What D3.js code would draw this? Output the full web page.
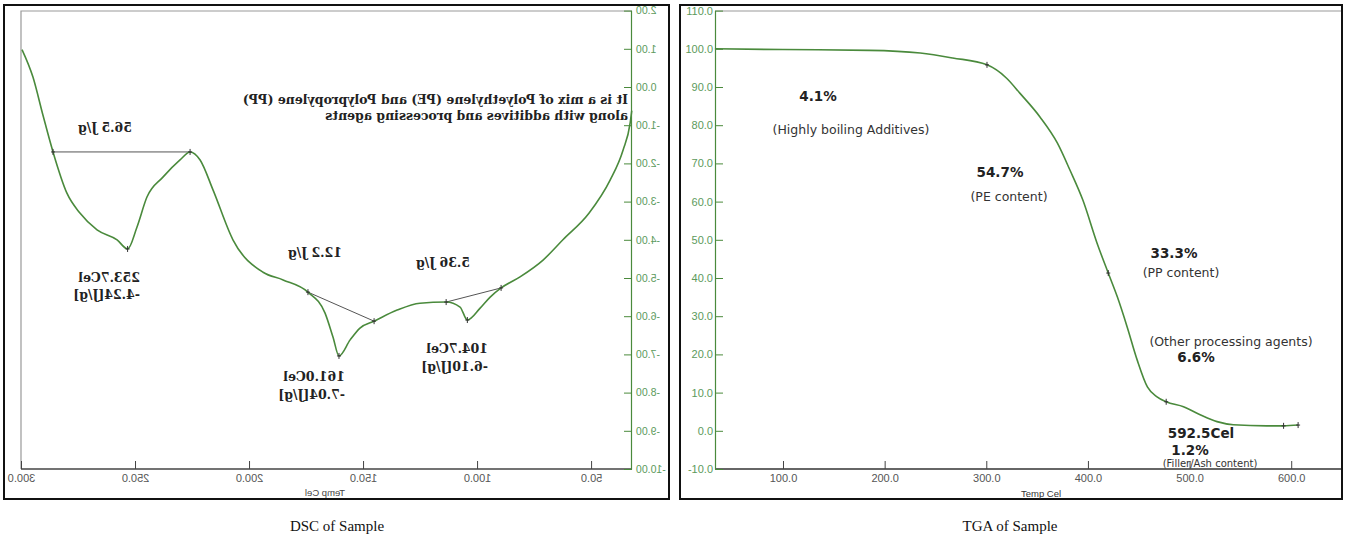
<!DOCTYPE html>
<html>
<head>
<meta charset="utf-8">
<script src="https://cdn.jsdelivr.net/npm/d3@7"></script>
<style>
  body { margin: 0; background: #fff; }
</style>
</head>
<body>
<div id="canvas"></div>
<script>
"use strict"

const dscTemp = [32.6, 33.3, 36.4, 42.1, 51.3, 62.8, 71.5, 81.6, 89.9, 94.7, 99.1, 104.7, 107.9, 114.0, 125.5, 135.5, 145.6, 151.8, 156.1, 161.0, 163.6, 167.1, 174.6, 185.5, 194.3, 207.5, 216.2, 221.9, 226.3, 230.7, 238.2, 245.2, 249.6, 253.7, 258.3, 267.1, 274.6, 280.3, 286.4, 290.8, 295.2, 300.0];
const dscFlow = [-0.62, -0.94, -1.65, -2.44, -3.30, -4.00, -4.53, -4.97, -5.26, -5.50, -5.79, -6.10, -5.76, -5.63, -5.66, -5.84, -6.13, -6.31, -6.62, -7.04, -6.55, -5.92, -5.37, -5.05, -4.85, -4.00, -2.70, -1.91, -1.70, -1.91, -2.36, -2.88, -3.67, -4.24, -4.00, -3.74, -3.30, -2.78, -1.70, -0.74, 0.26, 0.98];

// peak integration baselines: [startTemp, startVal, endTemp, endVal]
const dscBaselines = [
  [226.3, -1.70, 286.4, -1.70],
  [145.6, -6.13, 174.6, -5.37],
  [89.9, -5.26, 114.0, -5.63]
];
const dscMarks = [[286.4, -1.70], [226.3, -1.70], [253.7, -4.24], [174.6, -5.37], [145.6, -6.13], [161.0, -7.04], [114.0, -5.63], [89.9, -5.26], [104.7, -6.10]];

const dscYTicks = [2, 1, 0, -1, -2, -3, -4, -5, -6, -7, -8, -9, -10];
const dscXTicks = [50, 100, 150, 200, 250, 300];

// TGA curve: [temp, weight %]
const tgaTemp = [33, 100, 185, 235, 267, 300.7, 320, 333, 353, 370, 382.4, 395, 409, 420, 429, 438.6, 448.5, 458.5, 468, 477, 494, 510.4, 527, 543, 576, 592.5, 606.8];
const tgaWeight = [100.0, 99.8, 99.6, 98.9, 97.6, 95.8, 92.3, 88.4, 82.1, 75.3, 68.2, 60.4, 49.1, 41.3, 35.0, 27.2, 18.5, 11.5, 8.9, 7.6, 6.3, 4.2, 2.4, 1.6, 1.3, 1.3, 1.5];
const tgaMarks = [300.7, 420, 477, 592.5, 606.8];

const tgaYTicks = [110, 100, 90, 80, 70, 60, 50, 40, 30, 20, 10, 0, -10];
const tgaXTicks = [100, 200, 300, 400, 500, 600];

const green = "#4a8a3c";
const labelGreen = "#5c9a5c";
const serifBold = "'DejaVu Serif', serif";
const tickFont = "11px 'Liberation Sans', Arial, sans-serif";

let drawing = d3.select("#canvas")
    .append("svg")
    .attr("width", 1346)
    .attr("height", 542);

drawing.append("rect").attr("width", 1346).attr("height", 542).attr("fill", "#fff");

/* ---------------- left: DSC, drawn normally then mirrored ---------------- */
drawing.append("rect")
    .attr("x", 4).attr("y", 5).attr("width", 665).attr("height", 494)
    .attr("fill", "none").attr("stroke", "#111").attr("stroke-width", 2);

let dsc = drawing.append("g").attr("transform", "translate(673,0) scale(-1,1)");

let dx = d3.scaleLinear().domain([32.5, 300]).range([41, 651]);
let dy = d3.scaleLinear().domain([-10, 2]).range([469, 10.6]);

// faint frame
dsc.append("path")
    .attr("d", `M41,11 H652 V469`)
    .attr("fill", "none").attr("stroke", "#999").attr("stroke-width", 1.2);

let dscXAxis = dsc.append("g")
    .attr("transform", "translate(0,469)")
    .call(d3.axisBottom(dx).tickValues(dscXTicks).tickFormat(d => d.toFixed(1)).tickSizeInner(-8).tickSizeOuter(0).tickPadding(5));
dscXAxis.select(".domain").attr("stroke", "#444").attr("stroke-width", 1.5).attr("d", "M41,0H652");
dscXAxis.selectAll(".tick line").attr("stroke", "#444");
dscXAxis.selectAll("text").attr("fill", "#555").style("font", tickFont);

let dscYAxis = dsc.append("g")
    .attr("transform", "translate(41,0)")
    .call(d3.axisLeft(dy).tickValues(dscYTicks).tickFormat(d => d.toFixed(2)).tickSizeInner(-8).tickSizeOuter(0).tickPadding(4));
dscYAxis.select(".domain").attr("stroke", green).attr("stroke-width", 1.2);
dscYAxis.selectAll(".tick line").attr("stroke", green);
dscYAxis.selectAll("text").attr("fill", labelGreen).style("font", "10.5px 'Liberation Sans', Arial, sans-serif");

dsc.append("text")
    .attr("x", 348).attr("y", 496)
    .attr("text-anchor", "middle")
    .attr("fill", "#444")
    .style("font", "9.5px 'Liberation Sans', Arial, sans-serif")
    .text("Temp Cel");

dsc.selectAll(".baseline")
    .data(dscBaselines)
    .enter().append("line")
    .attr("x1", d => dx(d[0])).attr("y1", d => dy(d[1]))
    .attr("x2", d => dx(d[2])).attr("y2", d => dy(d[3]))
    .attr("stroke", "#555").attr("stroke-width", 1);

let dscLine = d3.line()
    .x((d, i) => dx(dscTemp[i]))
    .y(d => dy(d))
    .curve(d3.curveMonotoneX);

dsc.append("path")
    .datum(dscFlow)
    .attr("d", dscLine)
    .attr("fill", "none").attr("stroke", green).attr("stroke-width", 1.6);

dsc.selectAll(".mark")
    .data(dscMarks)
    .enter().append("path")
    .attr("d", d => `M${dx(d[0])},${dy(d[1]) - 3}v6M${dx(d[0]) - 2},${dy(d[1])}h4`)
    .attr("stroke", "#333").attr("stroke-width", 1);

// annotations (they get mirrored along with the group)
const dscNotes = [
  { x: 568, y: 132, anchor: "middle", t: "56.5 J/g" },
  { x: 533, y: 282, anchor: "start", t: "253.7Cel" },
  { x: 533, y: 299, anchor: "start", t: "-4.24[J/g]" },
  { x: 358, y: 257, anchor: "middle", t: "12.2 J/g" },
  { x: 328, y: 381, anchor: "start", t: "161.0Cel" },
  { x: 328, y: 399, anchor: "start", t: "-7.04[J/g]" },
  { x: 230, y: 267, anchor: "middle", t: "5.36 J/g" },
  { x: 185, y: 353, anchor: "start", t: "104.7Cel" },
  { x: 185, y: 371, anchor: "start", t: "-6.10[J/g]" },
  { x: 45, y: 104, anchor: "start", t: "It is a mix of Polyethylene (PE) and Polypropylene (PP)" },
  { x: 45, y: 120, anchor: "start", t: "along with additives and processing agents" }
];
dsc.selectAll(".note")
    .data(dscNotes)
    .enter().append("text")
    .attr("x", d => d.x).attr("y", d => d.y)
    .attr("text-anchor", d => d.anchor)
    .attr("fill", "#222")
    .style("font", `bold 12.5px ${serifBold}`)
    .text(d => d.t);

/* ---------------- right: TGA ---------------- */
drawing.append("rect")
    .attr("x", 680).attr("y", 5).attr("width", 662).attr("height", 494)
    .attr("fill", "none").attr("stroke", "#111").attr("stroke-width", 2);

let tga = drawing.append("g");

let tx = d3.scaleLinear().domain([33.1, 648]).range([715, 1340]);
let ty = d3.scaleLinear().domain([-10, 110]).range([469, 10.6]);

tga.append("path")
    .attr("d", "M715,11 H1341")
    .attr("fill", "none").attr("stroke", "#999").attr("stroke-width", 1.2);

let tgaXAxis = tga.append("g")
    .attr("transform", "translate(0,469)")
    .call(d3.axisBottom(tx).tickValues(tgaXTicks).tickFormat(d => d.toFixed(1)).tickSizeInner(-8).tickSizeOuter(0).tickPadding(5));
tgaXAxis.select(".domain").attr("stroke", "#333").attr("stroke-width", 1.5).attr("d", "M715,0H1341");
tgaXAxis.selectAll(".tick line").attr("stroke", "#444");
tgaXAxis.selectAll("text").attr("fill", "#555").style("font", tickFont);

let tgaYAxis = tga.append("g")
    .attr("transform", "translate(715,0)")
    .call(d3.axisLeft(ty).tickValues(tgaYTicks).tickFormat(d => d.toFixed(1)).tickSizeInner(-8).tickSizeOuter(0).tickPadding(2));
tgaYAxis.select(".domain").attr("stroke", green).attr("stroke-width", 1.2);
tgaYAxis.selectAll(".tick line").attr("stroke", green);
tgaYAxis.selectAll("text").attr("fill", labelGreen).style("font", tickFont);

tga.append("text")
    .attr("x", 1041).attr("y", 497)
    .attr("text-anchor", "middle")
    .attr("fill", "#333")
    .style("font", "9.5px 'Liberation Sans', Arial, sans-serif")
    .text("Temp Cel");

let tgaLine = d3.line()
    .x((d, i) => tx(tgaTemp[i]))
    .y(d => ty(d))
    .curve(d3.curveMonotoneX);

tga.append("path")
    .datum(tgaWeight)
    .attr("d", tgaLine)
    .attr("fill", "none").attr("stroke", green).attr("stroke-width", 1.6);

tga.selectAll(".mark")
    .data(tgaMarks)
    .enter().append("path")
    .attr("d", t => {
        let i = tgaTemp.indexOf(t);
        let px = tx(t), py = ty(tgaWeight[i]);
        return `M${px},${py - 3}v6M${px - 2},${py}h4`;
    })
    .attr("stroke", "#333").attr("stroke-width", 1);

const tgaNotes = [
  { x: 818, y: 101, bold: true, size: 13.5, t: "4.1%" },
  { x: 851, y: 134, bold: false, size: 12.5, t: "(Highly boiling Additives)" },
  { x: 1000, y: 177, bold: true, size: 13.5, t: "54.7%" },
  { x: 1009, y: 201, bold: false, size: 12.5, t: "(PE content)" },
  { x: 1174, y: 258, bold: true, size: 13.5, t: "33.3%" },
  { x: 1181, y: 277, bold: false, size: 12.5, t: "(PP content)" },
  { x: 1231, y: 346, bold: false, size: 12.5, t: "(Other processing agents)" },
  { x: 1196, y: 362, bold: true, size: 13.5, t: "6.6%" },
  { x: 1201, y: 438, bold: true, size: 13.5, t: "592.5Cel" },
  { x: 1190, y: 455, bold: true, size: 13.5, t: "1.2%" },
  { x: 1210, y: 467, bold: false, size: 10, t: "(Filler/Ash content)" }
];
tga.selectAll(".note")
    .data(tgaNotes)
    .enter().append("text")
    .attr("x", d => d.x).attr("y", d => d.y)
    .attr("text-anchor", "middle")
    .attr("fill", d => d.bold ? "#222" : "#333")
    .style("font", d => `${d.bold ? "bold " : ""}${d.size}px 'DejaVu Sans', Verdana, sans-serif`)
    .text(d => d.t);

/* ---------------- captions ---------------- */
drawing.selectAll(".caption")
    .data([["DSC of Sample", 337], ["TGA of Sample", 1010]])
    .enter().append("text")
    .attr("x", d => d[1]).attr("y", 531)
    .attr("text-anchor", "middle")
    .attr("fill", "#111")
    .style("font", "15px 'Liberation Serif', 'Times New Roman', serif")
    .text(d => d[0]);
</script>
</body>
</html>
